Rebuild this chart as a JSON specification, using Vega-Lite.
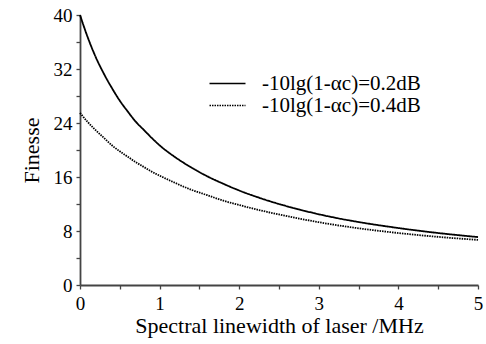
{
  "$schema": "https://vega.github.io/schema/vega-lite/v6.json",
  "autosize": {"type": "none"},
  "width": 398,
  "height": 270,
  "padding": {"left": 80, "top": 15, "right": 8, "bottom": 59},
  "background": "white",
  "config": {
    "view": {"stroke": null},
    "font": "Liberation Serif",
    "axis": {"grid": false, "domainColor": "#444", "domainWidth": 1.8, "tickColor": "#444", "tickWidth": 1.3, "labelColor": "black", "titleColor": "black", "labelFont": "Liberation Serif", "titleFont": "Liberation Serif", "labelFontSize": 19, "titleFontSize": 22, "titleFontWeight": "normal"}
  },
  "data": {
    "values": [
      {"w": 0, "F": 40, "s": "-10lg(1-αc)=0.2dB"},
      {"w": 0.1, "F": 36.6, "s": "-10lg(1-αc)=0.2dB"},
      {"w": 0.2, "F": 33.7, "s": "-10lg(1-αc)=0.2dB"},
      {"w": 0.3, "F": 31.3, "s": "-10lg(1-αc)=0.2dB"},
      {"w": 0.4, "F": 29.2, "s": "-10lg(1-αc)=0.2dB"},
      {"w": 0.5, "F": 27.3, "s": "-10lg(1-αc)=0.2dB"},
      {"w": 0.6, "F": 25.7, "s": "-10lg(1-αc)=0.2dB"},
      {"w": 0.7, "F": 24.2, "s": "-10lg(1-αc)=0.2dB"},
      {"w": 0.8, "F": 23.0, "s": "-10lg(1-αc)=0.2dB"},
      {"w": 0.9, "F": 21.8, "s": "-10lg(1-αc)=0.2dB"},
      {"w": 1.0, "F": 20.7, "s": "-10lg(1-αc)=0.2dB"},
      {"w": 1.2, "F": 18.9, "s": "-10lg(1-αc)=0.2dB"},
      {"w": 1.4, "F": 17.4, "s": "-10lg(1-αc)=0.2dB"},
      {"w": 1.6, "F": 16.1, "s": "-10lg(1-αc)=0.2dB"},
      {"w": 1.8, "F": 15.0, "s": "-10lg(1-αc)=0.2dB"},
      {"w": 2.0, "F": 14.0, "s": "-10lg(1-αc)=0.2dB"},
      {"w": 2.25, "F": 12.93, "s": "-10lg(1-αc)=0.2dB"},
      {"w": 2.5, "F": 12.0, "s": "-10lg(1-αc)=0.2dB"},
      {"w": 2.75, "F": 11.2, "s": "-10lg(1-αc)=0.2dB"},
      {"w": 3.0, "F": 10.48, "s": "-10lg(1-αc)=0.2dB"},
      {"w": 3.5, "F": 9.33, "s": "-10lg(1-αc)=0.2dB"},
      {"w": 4.0, "F": 8.44, "s": "-10lg(1-αc)=0.2dB"},
      {"w": 4.5, "F": 7.7, "s": "-10lg(1-αc)=0.2dB"},
      {"w": 5.0, "F": 7.1, "s": "-10lg(1-αc)=0.2dB"},
      {"w": 0, "F": 25.5, "s": "-10lg(1-αc)=0.4dB"},
      {"w": 0.1, "F": 24.1, "s": "-10lg(1-αc)=0.4dB"},
      {"w": 0.2, "F": 22.9, "s": "-10lg(1-αc)=0.4dB"},
      {"w": 0.3, "F": 21.8, "s": "-10lg(1-αc)=0.4dB"},
      {"w": 0.4, "F": 20.7, "s": "-10lg(1-αc)=0.4dB"},
      {"w": 0.5, "F": 19.8, "s": "-10lg(1-αc)=0.4dB"},
      {"w": 0.6, "F": 19.0, "s": "-10lg(1-αc)=0.4dB"},
      {"w": 0.7, "F": 18.2, "s": "-10lg(1-αc)=0.4dB"},
      {"w": 0.8, "F": 17.5, "s": "-10lg(1-αc)=0.4dB"},
      {"w": 0.9, "F": 16.8, "s": "-10lg(1-αc)=0.4dB"},
      {"w": 1.0, "F": 16.2, "s": "-10lg(1-αc)=0.4dB"},
      {"w": 1.2, "F": 15.1, "s": "-10lg(1-αc)=0.4dB"},
      {"w": 1.4, "F": 14.1, "s": "-10lg(1-αc)=0.4dB"},
      {"w": 1.6, "F": 13.3, "s": "-10lg(1-αc)=0.4dB"},
      {"w": 1.8, "F": 12.5, "s": "-10lg(1-αc)=0.4dB"},
      {"w": 2.0, "F": 11.85, "s": "-10lg(1-αc)=0.4dB"},
      {"w": 2.25, "F": 11.1, "s": "-10lg(1-αc)=0.4dB"},
      {"w": 2.5, "F": 10.45, "s": "-10lg(1-αc)=0.4dB"},
      {"w": 2.75, "F": 9.85, "s": "-10lg(1-αc)=0.4dB"},
      {"w": 3.0, "F": 9.3, "s": "-10lg(1-αc)=0.4dB"},
      {"w": 3.5, "F": 8.4, "s": "-10lg(1-αc)=0.4dB"},
      {"w": 4.0, "F": 7.7, "s": "-10lg(1-αc)=0.4dB"},
      {"w": 4.5, "F": 7.13, "s": "-10lg(1-αc)=0.4dB"},
      {"w": 5.0, "F": 6.68, "s": "-10lg(1-αc)=0.4dB"}
    ]
  },
  "mark": {"type": "line", "interpolate": "monotone", "color": "black", "strokeWidth": 1.8},
  "encoding": {
    "x": {"field": "w", "type": "quantitative", "scale": {"domain": [0, 5], "nice": false},
      "axis": {"title": "Spectral linewidth of laser /MHz", "values": [0,0.5,1,1.5,2,2.5,3,3.5,4,4.5,5], "labelExpr": "datum.value % 1 === 0 ? datum.value : ''", "tickSize": 4, "labelPadding": 5, "titlePadding": 2, "labelFlush": false}},
    "y": {"field": "F", "type": "quantitative", "scale": {"domain": [0, 40], "nice": false},
      "axis": {"title": "Finesse", "values": [0,4,8,12,16,20,24,28,32,36,40], "labelExpr": "datum.value % 8 === 0 ? datum.value : ''", "tickSize": 4, "labelPadding": 4, "titlePadding": 10, "labelFlush": false}},
    "strokeDash": {"field": "s", "type": "nominal",
      "scale": {"domain": ["-10lg(1-αc)=0.2dB", "-10lg(1-αc)=0.4dB"], "range": [[1, 0], [1.5, 1]]},
      "legend": {"title": null, "orient": "none", "legendX": 137, "legendY": 58, "symbolType": "M-2,0H2", "symbolSize": 324, "symbolStrokeColor": "black", "symbolStrokeWidth": 1.6, "symbolFillColor": "transparent", "labelFontSize": 21, "labelLimit": 400, "labelFont": "Liberation Serif", "labelColor": "black", "rowPadding": 0, "labelOffset": 24}}
  }
}
